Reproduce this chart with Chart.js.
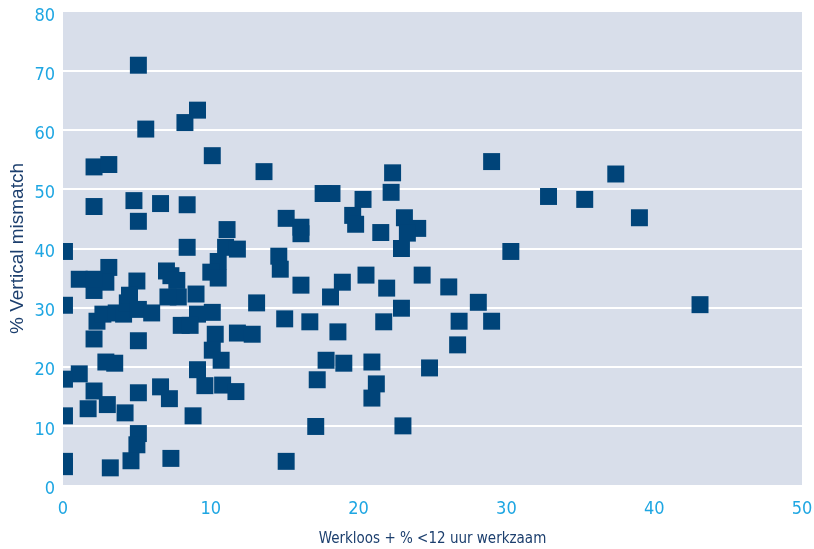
<!DOCTYPE html>
<html>
<head>
<meta charset="utf-8">
<script src="https://cdn.jsdelivr.net/npm/chart.js@4.4.0/dist/chart.umd.min.js"></script>
<style>
  html, body { margin: 0; padding: 0; background: #fff; }
  #wrap { width: 814px; height: 549px; position: relative; }
</style>
</head>
<body>
<div id="wrap"><canvas id="grafico"></canvas></div>
<script>
// x = werkloos + % <12 uur werkzaam, y = % vertical mismatch
var werkloos = [
  5.1, 5.6, 2.1, 3.1, 8.25, 9.1, 10.1, 13.6, 2.1, 4.8,
  5.1, 6.6, 0.1, 1.1, 3.1, 2.1, 2.9, 2.1, 5.0, 7.0,
  7.3, 8.4, 15.1, 16.1, 16.1, 11.1, 8.4, 11.0, 11.8, 14.6,
  14.7, 10.5, 10.0, 10.5, 16.1, 13.1, 15.0, 9.0, 7.7, 7.8,
  9.1, 10.1, 8.0, 8.6, 10.3, 11.8, 12.8, 10.1, 10.7, 9.1,
  9.6, 10.8, 11.7, 7.2, 8.8, 7.3, 15.1, 2.1, 5.1, 2.9,
  3.5, 1.1, 0.1, 2.1, 5.1, 6.6, 1.7, 3.0, 4.2, 0.1,
  5.1, 5.0, 0.1, 0.1, 3.2, 4.6, 0.1, 2.3, 2.7, 3.6,
  4.1, 4.35, 4.5, 5.1, 6.0, 7.1, 22.3, 17.6, 18.2, 22.2,
  20.3, 19.6, 19.8, 21.5, 23.1, 24.0, 23.3, 22.9, 18.9, 18.1,
  20.5, 21.9, 24.3, 22.9, 16.7, 18.6, 21.7, 17.8, 19.0, 20.9,
  24.8, 17.2, 21.2, 20.9, 17.1, 23.0, 29.0, 32.85, 35.3, 30.3,
  26.1, 28.1, 26.8, 29.0, 26.7, 37.4, 39.0, 43.1
];
var mismatch = [
  71.0, 60.2, 53.8, 54.2, 61.3, 63.4, 55.7, 53.0, 47.1, 48.1,
  44.6, 47.6, 39.5, 34.8, 36.8, 32.9, 34.3, 34.8, 34.5, 36.2,
  35.4, 47.4, 45.1, 43.6, 42.5, 43.2, 40.2, 40.2, 39.9, 38.7,
  36.5, 37.8, 36.0, 35.0, 33.8, 30.8, 28.1, 32.3, 34.6, 31.8,
  28.9, 29.2, 27.0, 27.0, 25.5, 25.7, 25.5, 22.8, 21.1, 19.5,
  16.8, 16.9, 15.8, 14.6, 11.7, 4.5, 4.0, 24.7, 24.4, 20.8,
  20.6, 18.8, 17.9, 15.9, 15.6, 16.6, 12.9, 13.6, 12.2, 11.7,
  8.7, 6.8, 4.0, 3.1, 2.9, 4.1, 30.4, 27.7, 28.9, 29.1,
  28.9, 30.8, 32.1, 29.7, 29.1, 31.8, 52.8, 49.3, 49.3, 49.5,
  48.3, 45.6, 44.1, 42.7, 45.2, 43.4, 42.6, 40.0, 34.3, 31.8,
  35.5, 33.3, 35.5, 29.9, 27.6, 25.9, 27.6, 21.1, 20.6, 20.8,
  19.8, 17.8, 17.1, 14.7, 9.9, 10.0, 54.7, 48.8, 48.3, 39.5,
  33.5, 30.9, 27.7, 27.7, 23.7, 52.6, 45.2, 30.5
];
var xTitel = 'Werkloos + % <12 uur werkzaam';
var yTitel = '% Vertical mismatch';

var fonte = "'Liberation Sans Narrow', 'DejaVu Sans Condensed', sans-serif";
var azulClaro = '#1ea6e2';
var azulEscuro = '#1c3f6e';

var pontos = [];
for (var i = 0; i < werkloos.length; i++) pontos.push({ x: werkloos[i], y: mismatch[i] });

// fundo cinza-azulado da área do gráfico
var fundo = {
  id: 'fundo',
  beforeDraw: function(chart) {
    var a = chart.chartArea;
    var ctx = chart.ctx;
    ctx.save();
    ctx.fillStyle = '#d8deea';
    ctx.fillRect(a.left, a.top, a.right - a.left, a.bottom - a.top);
    ctx.restore();
  }
};

new Chart(document.getElementById('grafico'), {
  type: 'scatter',
  data: {
    datasets: [{
      data: pontos,
      pointStyle: 'rect',
      pointRadius: 12,
      pointHoverRadius: 12,
      borderWidth: 0,
      backgroundColor: '#004479',
      borderColor: '#004479'
    }]
  },
  options: {
    responsive: true,
    maintainAspectRatio: false,
    animation: false,
    layout: { padding: { top: 4, right: 2, left: 0, bottom: 0 } },
    plugins: { legend: { display: false }, tooltip: { enabled: false } },
    scales: {
      x: {
        type: 'linear', min: 0, max: 50,
        grid: { display: false, drawTicks: false },
        border: { display: false },
        ticks: { stepSize: 10, padding: 14, color: azulClaro, font: { family: fonte, size: 18 } },
        title: { display: true, text: xTitel, color: azulEscuro, font: { family: fonte, size: 15 }, padding: { top: 0, bottom: 1 } },
        afterFit: function(s) { s.height = 64; s.paddingLeft = 0; s.paddingRight = 0; }
      },
      y: {
        type: 'linear', min: 0, max: 80,
        grid: {
          drawTicks: false, lineWidth: 2,
          color: function(c) { return (c.tick && (c.tick.value === 0 || c.tick.value === 80)) ? 'rgba(0,0,0,0)' : '#ffffff'; }
        },
        border: { display: false },
        ticks: { stepSize: 10, padding: 8, labelOffset: 4, color: azulClaro, font: { family: fonte, size: 18 } },
        title: { display: true, text: yTitel, color: azulEscuro, font: { family: "'Liberation Sans', sans-serif", size: 19 }, padding: { top: 6, bottom: 0 } },
        afterFit: function(s) { s.width = 63; s.paddingTop = 0; s.paddingBottom = 0; }
      }
    }
  },
  plugins: [fundo]
});
</script>
</body>
</html>
